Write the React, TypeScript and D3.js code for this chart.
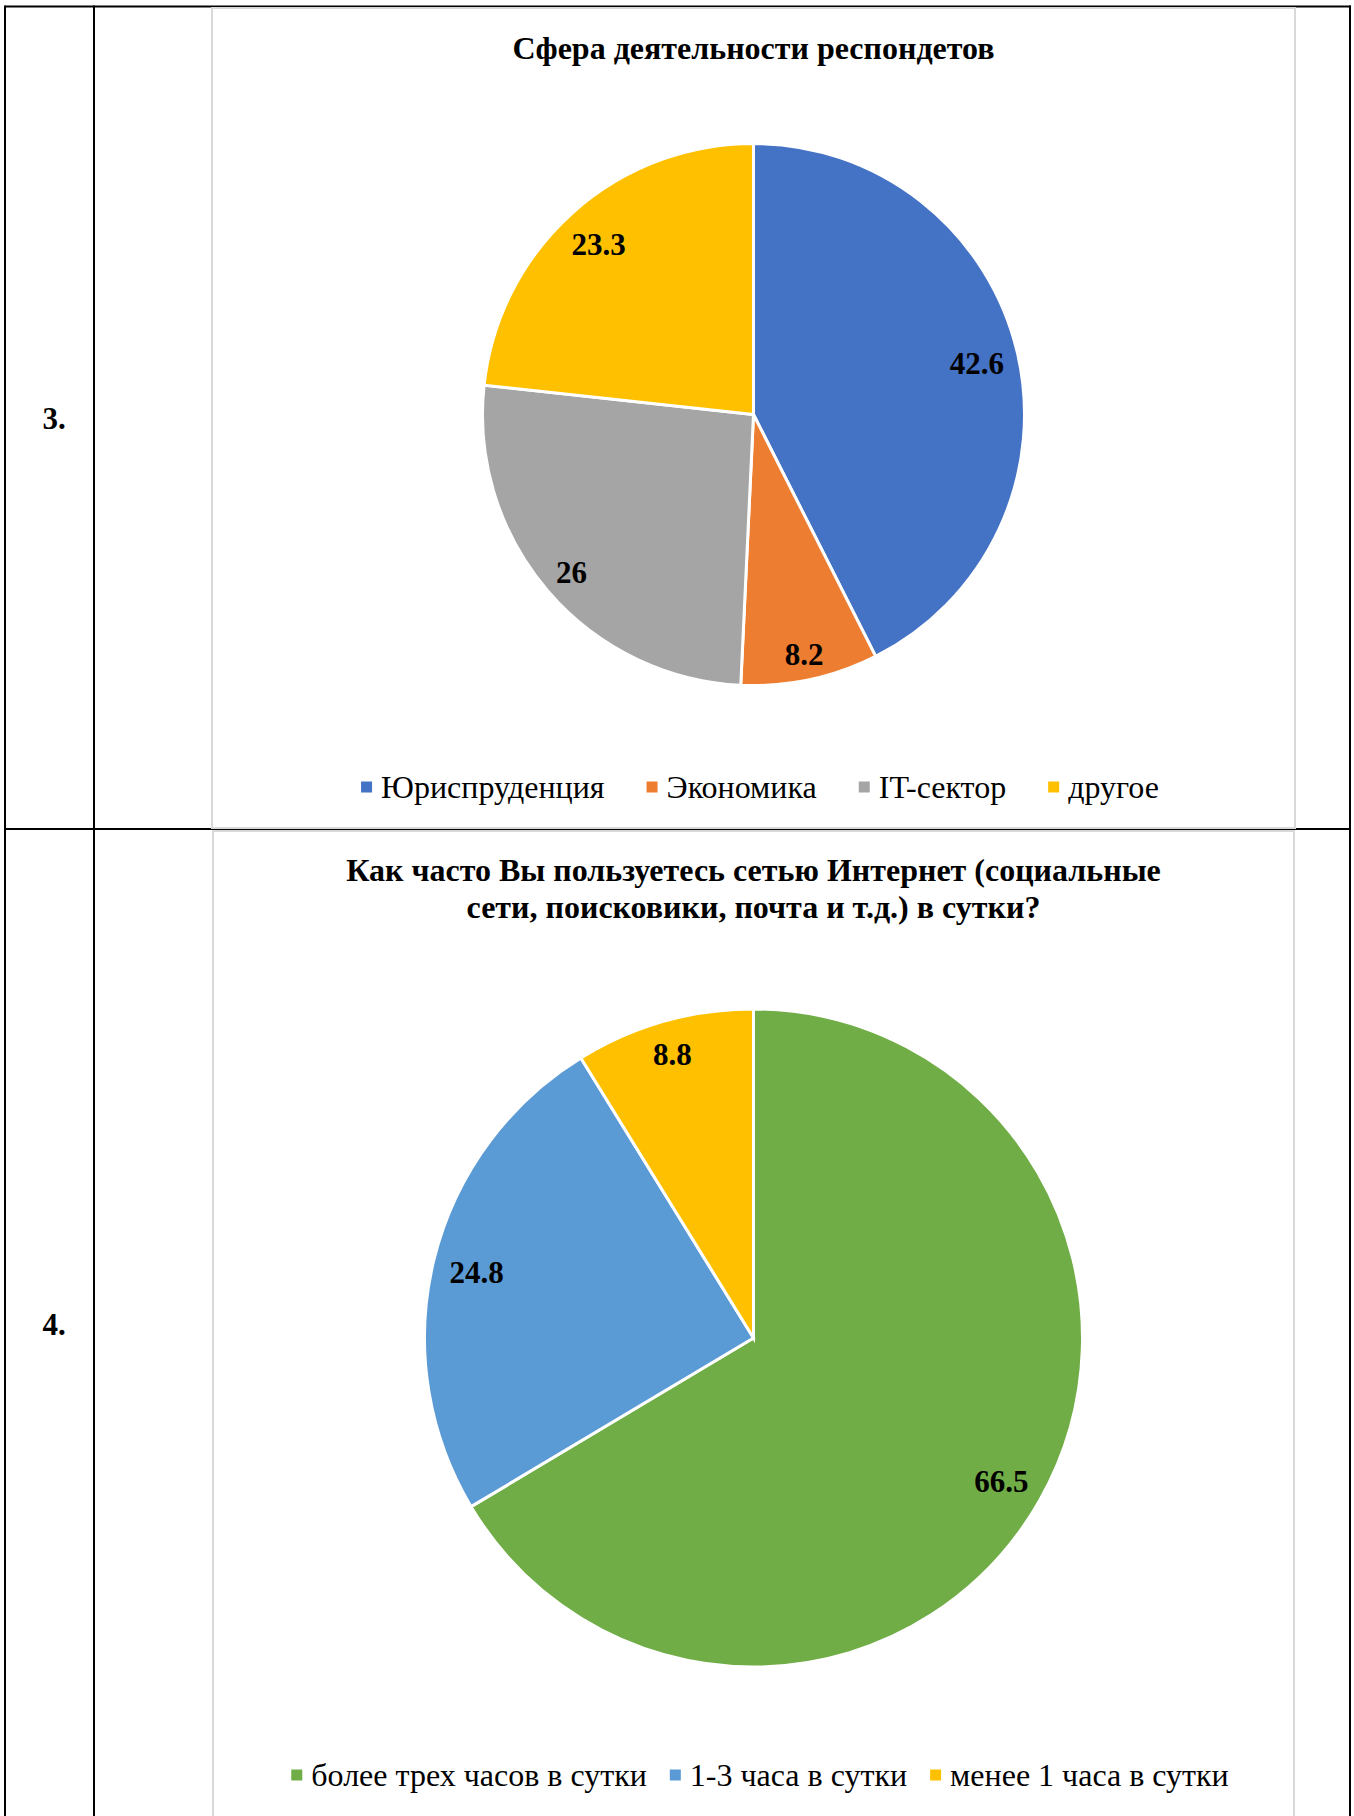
import React from "react";
import * as d3 from "d3";

const W = 1354;
const H = 1816;

// Chart 1 data
const sphereCategories = ["Юриспруденция", "Экономика", "IT-сектор", "другое"];
const sphereValues = [42.6, 8.2, 26, 23.3];
const sphereColors = ["#4472C4", "#ED7D31", "#A5A5A5", "#FFC000"];
const sphereTitle = ["Сфера деятельности респондетов"];

// Chart 2 data
const internetCategories = ["более трех часов в сутки", "1-3 часа в сутки", "менее 1 часа в сутки"];
const internetValues = [66.5, 24.8, 8.8];
const internetColors = ["#70AD47", "#5B9BD5", "#FFC000"];
const internetTitle = [
  "Как часто Вы пользуетесь сетью Интернет (социальные",
  "сети, поисковики, почта и т.д.) в сутки?",
];

const rowLabels = ["3.", "4."];

const FONT = "'Liberation Serif', 'Times New Roman', serif";

let _ctx: CanvasRenderingContext2D | null = null;
function measure(text: string, size: number, bold = false): number {
  if (!_ctx) {
    const c = document.createElement("canvas");
    _ctx = c.getContext("2d");
  }
  if (!_ctx) return text.length * size * 0.5;
  _ctx.font = `${bold ? "bold " : ""}${size}px ${FONT}`;
  return _ctx.measureText(text).width;
}

type PieProps = {
  x0: number;
  y0: number;
  x1: number;
  y1: number;
  cx: number;
  cy: number;
  r: number;
  title: string[];
  titleY: number;
  categories: string[];
  values: number[];
  colors: string[];
  legendY: number;
  legendCx: number;
  labelSize: number;
  legendSize: number;
  titleSize: number;
  legendGap: number;
};

function PieChart(p: PieProps) {
  const pie = d3
    .pie<number>()
    .sort(null)
    .value((d) => d)
    .startAngle(0)
    .endAngle(2 * Math.PI);
  const arcs = pie(p.values);
  const arc = d3.arc<d3.PieArcDatum<number>>().innerRadius(0).outerRadius(p.r);
  const pad = p.r * 0.045;

  const labels = arcs.map((a) => {
    const text = String(a.data);
    const w = measure(text, p.labelSize, true);
    const h = p.labelSize * 0.72;
    const phi = (a.startAngle + a.endAngle) / 2;
    const sx = Math.sin(phi);
    const sy = -Math.cos(phi);
    const lim = p.r - pad;
    let best = 0;
    for (let d = 0; d < p.r; d += 0.5) {
      const x = d * sx;
      const y = d * sy;
      const fx = Math.abs(x) + w / 2;
      const fy = Math.abs(y) + h / 2;
      if (Math.sqrt(fx * fx + fy * fy) <= lim) best = d;
    }
    return { text, x: best * sx, y: best * sy };
  });

  // legend layout
  const marker = 11;
  const mGap = 9;
  const itemGap = p.legendGap;
  const widths = p.categories.map((c) => measure(c, p.legendSize));
  const total =
    widths.reduce((s, w) => s + marker + mGap + w, 0) + itemGap * (p.categories.length - 1);
  const midX = (p.x0 + p.x1) / 2;
  let lx = p.legendCx - total / 2;
  const items = p.categories.map((c, i) => {
    const it = { c, x: lx, color: p.colors[i] };
    lx += marker + mGap + widths[i] + itemGap;
    return it;
  });

  return (
    <g>
      <rect
        x={p.x0}
        y={p.y0}
        width={p.x1 - p.x0}
        height={p.y1 - p.y0}
        fill="#ffffff"
        stroke="#d9d9d9"
        strokeWidth={2}
      />
      {p.title.map((t, i) => (
        <text
          key={i}
          x={midX}
          y={p.titleY + i * 37}
          textAnchor="middle"
          fontFamily={FONT}
          fontWeight="bold"
          fontSize={p.titleSize}
          fill="#000"
        >
          {t}
        </text>
      ))}
      <g transform={`translate(${p.cx},${p.cy})`}>
        {arcs.map((a, i) => (
          <path key={i} d={arc(a) || ""} fill={p.colors[i]} stroke="#ffffff" strokeWidth={3} />
        ))}
        {labels.map((l, i) => (
          <text
            key={i}
            x={l.x}
            y={l.y}
            dy="0.42em"
            textAnchor="middle"
            fontFamily={FONT}
            fontWeight="bold"
            fontSize={p.labelSize}
            fill="#000"
          >
            {l.text}
          </text>
        ))}
      </g>
      {items.map((it, i) => (
        <g key={i}>
          <rect x={it.x} y={p.legendY - marker / 2} width={marker} height={marker} fill={it.color} />
          <text
            x={it.x + marker + mGap}
            y={p.legendY}
            dy="0.33em"
            fontFamily={FONT}
            fontSize={p.legendSize}
            fill="#000"
          >
            {it.c}
          </text>
        </g>
      ))}
    </g>
  );
}

export default function App() {
  const lineW = 2;
  return (
    <svg
      width={W}
      height={H}
      style={{ position: "absolute", left: 0, top: 0, background: "#fff" }}
      xmlns="http://www.w3.org/2000/svg"
    >
      <rect x={0} y={0} width={W} height={H} fill="#fff" />
      {/* table grid */}
      <line x1={5} y1={6.5} x2={1351} y2={6.5} stroke="#000" strokeWidth={lineW} />
      <line x1={5} y1={5.5} x2={5} y2={H} stroke="#000" strokeWidth={lineW} />
      <line x1={94} y1={5.5} x2={94} y2={H} stroke="#000" strokeWidth={lineW} />
      <line x1={1350} y1={5.5} x2={1350} y2={H} stroke="#000" strokeWidth={lineW} />
      <line x1={5} y1={829} x2={1351} y2={829} stroke="#000" strokeWidth={lineW} />

      <PieChart
        x0={212}
        y0={8}
        x1={1295}
        y1={828}
        cx={753.5}
        cy={414.5}
        r={271}
        title={sphereTitle}
        titleY={59}
        categories={sphereCategories}
        values={sphereValues}
        colors={sphereColors}
        legendY={787}
        legendCx={760}
        labelSize={31}
        legendSize={32}
        titleSize={32}
        legendGap={42}
      />
      <PieChart
        x0={213}
        y0={831}
        x1={1294}
        y1={1817}
        cx={753.5}
        cy={1338}
        r={329}
        title={internetTitle}
        titleY={881}
        categories={internetCategories}
        values={internetValues}
        colors={internetColors}
        legendY={1775}
        legendCx={760}
        labelSize={31}
        legendSize={32}
        titleSize={32}
        legendGap={23}
      />

      {rowLabels.map((l, i) => (
        <text
          key={i}
          x={54}
          y={i === 0 ? 429 : 1335}
          textAnchor="middle"
          fontFamily={FONT}
          fontWeight="bold"
          fontSize={31}
          fill="#000"
        >
          {l}
        </text>
      ))}
    </svg>
  );
}
